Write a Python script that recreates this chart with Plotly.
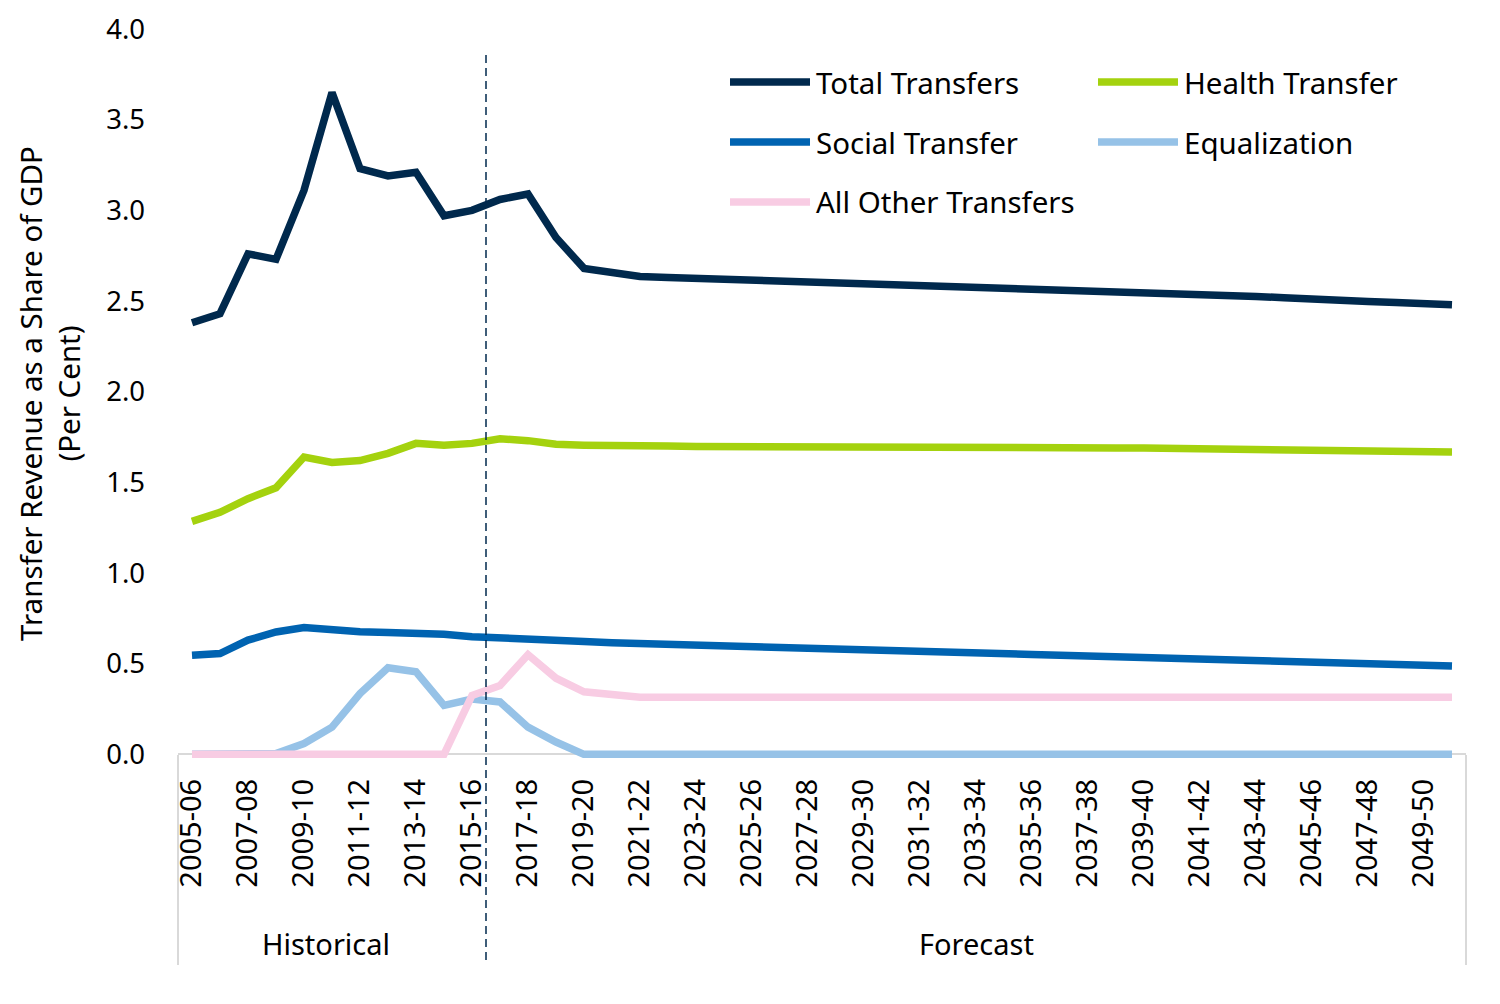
import plotly.graph_objects as go

# fiscal years shown on the x axis
years = [
    "2005-06", "2006-07", "2007-08", "2008-09", "2009-10", "2010-11", "2011-12", "2012-13",
    "2013-14", "2014-15", "2015-16", "2016-17", "2017-18", "2018-19", "2019-20", "2020-21",
    "2021-22", "2022-23", "2023-24", "2024-25", "2025-26", "2026-27", "2027-28", "2028-29",
    "2029-30", "2030-31", "2031-32", "2032-33", "2033-34", "2034-35", "2035-36", "2036-37",
    "2037-38", "2038-39", "2039-40", "2040-41", "2041-42", "2042-43", "2043-44", "2044-45",
    "2045-46", "2046-47", "2047-48", "2048-49", "2049-50", "2050-51",
]
tick_years = years[::2]

total = [2.38, 2.43, 2.76, 2.73, 3.11, 3.65, 3.23, 3.19, 3.21, 2.97, 3.00, 3.06, 3.09, 2.85,
         2.68, 2.655, 2.635, 2.63, 2.625, 2.62, 2.615, 2.612, 2.61, 2.607, 2.603, 2.60, 2.594,
         2.59, 2.585, 2.578, 2.568, 2.563, 2.555, 2.55, 2.547, 2.542, 2.536, 2.53, 2.525, 2.518,
         2.508, 2.503, 2.498, 2.492, 2.487, 2.48]
health = [1.285, 1.335, 1.41, 1.47, 1.64, 1.61, 1.62, 1.66, 1.715, 1.705, 1.715, 1.74, 1.73,
          1.71, 1.705, 1.70, 1.70, 1.70, 1.698, 1.698, 1.698, 1.70, 1.70, 1.70, 1.70, 1.70,
          1.698, 1.697, 1.697, 1.696, 1.692, 1.692, 1.691, 1.69, 1.689, 1.688, 1.686, 1.684,
          1.682, 1.679, 1.675, 1.675, 1.674, 1.672, 1.67, 1.668]
social = [0.546, 0.556, 0.63, 0.675, 0.70, 0.684, 0.676, 0.672, 0.672, 0.662, 0.649, 0.64,
          0.635, 0.629, 0.622, 0.616, 0.611, 0.607, 0.602, 0.598, 0.594, 0.590, 0.585, 0.581,
          0.577, 0.572, 0.568, 0.564, 0.560, 0.555, 0.551, 0.547, 0.542, 0.538, 0.534, 0.529,
          0.525, 0.521, 0.516, 0.512, 0.508, 0.503, 0.499, 0.495, 0.491, 0.487]
equalization = [0, 0, 0, 0.005, 0.06, 0.15, 0.335, 0.478, 0.455, 0.27, 0.305, 0.289, 0.15,
                0.068, 0, 0, 0, 0, 0, 0, 0, 0, 0, 0, 0, 0, 0, 0, 0, 0, 0, 0, 0, 0, 0, 0, 0,
                0, 0, 0, 0, 0, 0, 0, 0, 0]
other = [0, 0, 0, 0, 0, 0, 0, 0, 0, 0, 0.325, 0.38, 0.55, 0.42, 0.345, 0.328, 0.315, 0.315,
         0.315, 0.315, 0.315, 0.315, 0.315, 0.315, 0.315, 0.315, 0.315, 0.315, 0.315, 0.315,
         0.315, 0.315, 0.315, 0.315, 0.315, 0.315, 0.315, 0.315, 0.315, 0.315, 0.315, 0.315,
         0.315, 0.315, 0.315, 0.315]

series = [
    ("Total Transfers", total, "#00294D"),
    ("Health Transfer", health, "#A4D20E"),
    ("Social Transfer", social, "#0063B1"),
    ("Equalization", equalization, "#96C2E7"),
    ("All Other Transfers", other, "#F8CCE3"),
]

FONT = "Noto Sans"
W, H = 1500, 1004
L, R, T, B = 170, 42, 21, 254
OFF = 8  # page body margin


def px(x):
    # screen pixel -> paper x
    return (x - OFF - L) / (W - L - R)


def py(y):
    # screen pixel -> paper y
    return (H - B - (y - OFF)) / (H - B - T)


fig = go.Figure()
for name, vals, color in series:
    fig.add_trace(go.Scatter(x=years, y=vals, mode="lines", name=name,
                             line=dict(color=color, width=7.5), showlegend=False))

shapes = [
    # historical / forecast divider
    dict(type="line", xref="x", yref="paper", x0=10.5, x1=10.5, y0=py(55), y1=py(965),
         line=dict(color="#00294D", width=1.5, dash="8px,5px")),
    # category group borders
    dict(type="line", xref="paper", yref="paper", x0=0, x1=0, y0=py(755), y1=py(965),
         line=dict(color="#D9D9D9", width=2)),
    dict(type="line", xref="paper", yref="paper", x0=1, x1=1, y0=py(755), y1=py(965),
         line=dict(color="#D9D9D9", width=2)),
]
annotations = [
    dict(text="Historical", x=4.77, xref="x", y=py(943), yref="paper", showarrow=False,
         xanchor="center", yanchor="middle",
         font=dict(size=29, color="#000000", family=FONT)),
    dict(text="Forecast", x=28, xref="x", y=py(943), yref="paper", showarrow=False,
         xanchor="center", yanchor="middle",
         font=dict(size=29, color="#000000", family=FONT)),
]

# legend drawn as two columns
legend_pos = [(730, 82), (1098, 82), (730, 142), (1098, 142), (730, 202)]
for (name, _, color), (lx, ly) in zip(series, legend_pos):
    shapes.append(dict(type="line", xref="paper", yref="paper", x0=px(lx), x1=px(lx + 80),
                       y0=py(ly), y1=py(ly), line=dict(color=color, width=7.5)))
    annotations.append(dict(text=name, x=px(lx + 84), y=py(ly), xref="paper", yref="paper",
                            xanchor="left", yanchor="middle", showarrow=False,
                            font=dict(size=29.5, color="#000000", family=FONT)))

fig.update_layout(
    width=W, height=H,
    margin=dict(l=L, r=R, t=T, b=B, autoexpand=False),
    plot_bgcolor="white", paper_bgcolor="white",
    font=dict(family=FONT, size=26, color="#000000"),
    shapes=shapes, annotations=annotations,
    showlegend=False,
)
fig.update_xaxes(type="category", range=[-0.5, 45.5], tickvals=tick_years, ticktext=tick_years,
                 tickangle=-90, showgrid=False, showline=False, ticks="", automargin=False,
                 ticklabelstandoff=14, tickfont=dict(size=29))
fig.update_yaxes(range=[-0.02, 4.0], dtick=0.5, tickformat=".1f", showgrid=False,
                 showline=False, zeroline=True, zerolinecolor="#D9D9D9", zerolinewidth=2,
                 ticks="", ticklabelstandoff=32, tickfont=dict(size=27.5), automargin=False,
                 title=dict(text="Transfer Revenue as a Share of GDP<br>(Per Cent)",
                            font=dict(size=29.5), standoff=16))

fig.write_html("out.html")
